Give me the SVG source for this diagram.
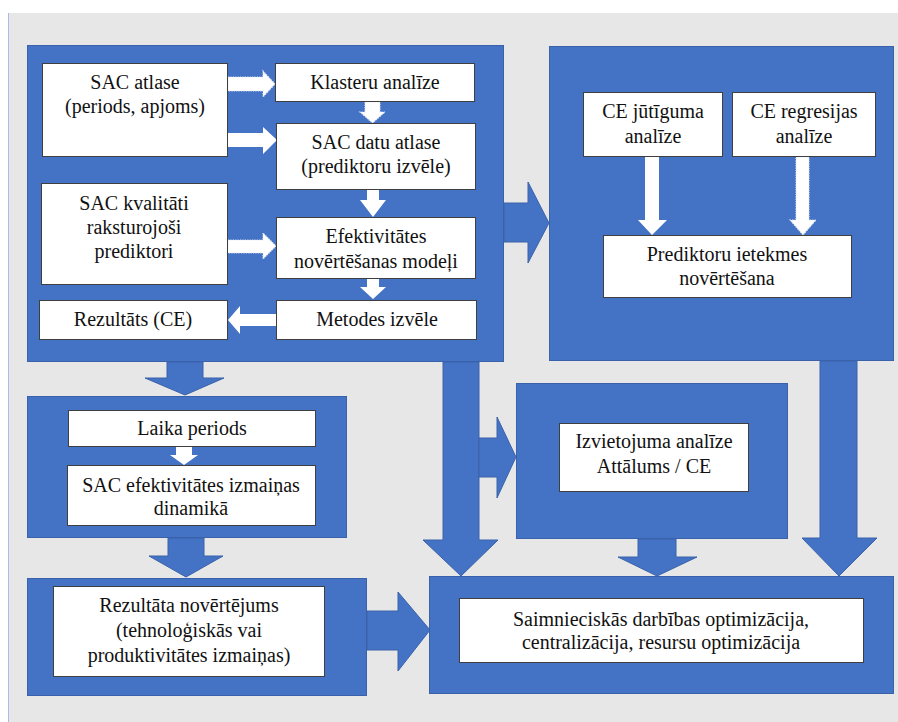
<svg xmlns="http://www.w3.org/2000/svg" width="898" height="722" viewBox="0 0 898 722">
  <style>
    .panel { fill: #4472c4; stroke: #3a62aa; stroke-width: 1; }
    .card { fill: #ffffff; stroke: #3f3f3f; stroke-width: 1; }
    .big { fill: #4472c4; stroke: #3a62aa; stroke-width: 1; }
    .solid { fill: #ffffff; stroke: none; }
    .dotted { fill: #ffffff; stroke: #dfe6f4; stroke-width: 1.2; stroke-dasharray: 1.2 1.2; }
    .lbl { font-family: 'Liberation Serif', 'Times New Roman', serif; font-size: 20px; fill: #111111; text-anchor: middle; }
  </style>

  <!-- page -->
  <rect x="0" y="0" width="898" height="722" fill="#ffffff"/>
  <rect x="8" y="13" width="890" height="709" fill="#e7e7e7"/>
  <line x1="8.5" y1="13" x2="8.5" y2="722" stroke="#a9bce6" stroke-width="1"/>

  <!-- container panels -->
  <g id="panel-selection"><rect class="panel" x="27.5" y="45.5" width="476" height="316"/></g>
  <g id="panel-impact"><rect class="panel" x="549.5" y="46.5" width="344" height="314"/></g>
  <g id="panel-dynamics"><rect class="panel" x="27.5" y="396.5" width="319" height="141"/></g>
  <g id="panel-result"><rect class="panel" x="27.5" y="578.5" width="339" height="117"/></g>
  <g id="panel-location"><rect class="panel" x="516.5" y="383.5" width="271" height="155"/></g>
  <g id="panel-optimization"><rect class="panel" x="429.5" y="576.5" width="464" height="117"/></g>

  <!-- connectors -->
  <g id="connectors">
    <!-- block arrows between panels -->
    <polygon class="big" points="504,203 528,203 528,182 549,223 528,263 528,242 504,242"/>
    <polygon class="big" points="167,362 203,362 203,378 224,378 185,395 145,378 167,378"/>
    <polygon class="big" points="443,362 479,362 479,540 498,540 461,576 423,540 443,540"/>
    <polygon class="big" points="479,438 497,438 497,417 516,457 497,498 497,477 479,477"/>
    <polygon class="big" points="820,361 857,361 857,538 877,538 839,576 802,538 820,538"/>
    <polygon class="big" points="638,539 676,539 676,557 697,557 657,576 618,557 638,557"/>
    <polygon class="big" points="168,538 204,538 204,556 223,556 186,577 149,556 168,556"/>
    <polygon class="big" points="367,611 398,611 398,592 430,630 398,671 398,650 367,650"/>

    <!-- white arrows inside panels -->
    <polygon class="dotted" points="228,77 263,77 263,71 275,84 263,97 263,91 228,91"/>
    <polygon class="solid" points="228,133 263,133 263,127 277,140 263,154 263,147 228,147"/>
    <polygon class="dotted" points="365,102 380,102 380,112 385,112 372.5,123 360,112 365,112"/>
    <polygon class="solid" points="367,190 379,190 379,200 386,200 373,217 360,200 367,200"/>
    <polygon class="dotted" points="228,240 263,240 263,233 276,246 263,259 263,253 228,253"/>
    <polygon class="solid" points="367,279 379,279 379,287 386,287 373,299 360,287 367,287"/>
    <polygon class="solid" points="276,314 240,314 240,306 228,320 240,334 240,326 276,326"/>
    <polygon class="solid" points="645,157 659,157 659,220 667,220 652,235 638,220 645,220"/>
    <polygon class="dotted" points="796,157 809,157 809,220 816,220 803,235 790,220 796,220"/>
    <polygon class="solid" points="176,447 192,447 192,455 198,455 184,465 170,455 176,455"/>
  </g>

  <!-- nodes -->
  <g id="sac-atlase">
    <rect class="card" x="42.5" y="63.5" width="185" height="93"/>
    <text class="lbl" font-family="'Liberation Serif', serif" x="135" y="89">SAC atlase</text>
    <text class="lbl" font-family="'Liberation Serif', serif" x="135" y="113">(periods, apjoms)</text>
  </g>
  <g id="klasteru-analize">
    <rect class="card" x="275.5" y="63.5" width="199" height="38"/>
    <text class="lbl" font-family="'Liberation Serif', serif" x="375" y="89">Klasteru analīze</text>
  </g>
  <g id="sac-datu-atlase">
    <rect class="card" x="276.5" y="123.5" width="199" height="66"/>
    <text class="lbl" font-family="'Liberation Serif', serif" x="376" y="149">SAC datu atlase</text>
    <text class="lbl" font-family="'Liberation Serif', serif" x="376" y="173">(prediktoru izvēle)</text>
  </g>
  <g id="sac-kvalitati">
    <rect class="card" x="41.5" y="183.5" width="186" height="101"/>
    <text class="lbl" font-family="'Liberation Serif', serif" x="134" y="210">SAC kvalitāti</text>
    <text class="lbl" font-family="'Liberation Serif', serif" x="134" y="234">raksturojoši</text>
    <text class="lbl" font-family="'Liberation Serif', serif" x="134" y="258">prediktori</text>
  </g>
  <g id="efektivitates-modeli">
    <rect class="card" x="276.5" y="217.5" width="199" height="61"/>
    <text class="lbl" font-family="'Liberation Serif', serif" x="376" y="243">Efektivitātes</text>
    <text class="lbl" font-family="'Liberation Serif', serif" x="376" y="268">novērtēšanas modeļi</text>
  </g>
  <g id="rezultats-ce">
    <rect class="card" x="39.5" y="300.5" width="188" height="39"/>
    <text class="lbl" font-family="'Liberation Serif', serif" x="133" y="326">Rezultāts (CE)</text>
  </g>
  <g id="metodes-izvele">
    <rect class="card" x="276.5" y="300.5" width="200" height="39"/>
    <text class="lbl" font-family="'Liberation Serif', serif" x="377" y="326">Metodes izvēle</text>
  </g>
  <g id="ce-jutiguma">
    <rect class="card" x="583.5" y="92.5" width="139" height="64"/>
    <text class="lbl" font-family="'Liberation Serif', serif" x="653" y="118">CE jūtīguma</text>
    <text class="lbl" font-family="'Liberation Serif', serif" x="653" y="143">analīze</text>
  </g>
  <g id="ce-regresijas">
    <rect class="card" x="732.5" y="92.5" width="143" height="64"/>
    <text class="lbl" font-family="'Liberation Serif', serif" x="804" y="118">CE regresijas</text>
    <text class="lbl" font-family="'Liberation Serif', serif" x="804" y="143">analīze</text>
  </g>
  <g id="prediktoru-ietekmes">
    <rect class="card" x="603.5" y="235.5" width="248" height="62"/>
    <text class="lbl" font-family="'Liberation Serif', serif" x="727" y="261">Prediktoru ietekmes</text>
    <text class="lbl" font-family="'Liberation Serif', serif" x="727" y="285">novērtēšana</text>
  </g>
  <g id="laika-periods">
    <rect class="card" x="68.5" y="410.5" width="247" height="36"/>
    <text class="lbl" font-family="'Liberation Serif', serif" x="192" y="435">Laika periods</text>
  </g>
  <g id="efektivitates-izmainas">
    <rect class="card" x="67.5" y="465.5" width="248" height="60"/>
    <text class="lbl" font-family="'Liberation Serif', serif" x="191" y="492">SAC efektivitātes izmaiņas</text>
    <text class="lbl" font-family="'Liberation Serif', serif" x="191" y="515">dinamikā</text>
  </g>
  <g id="rezultata-novertejums">
    <rect class="card" x="53.5" y="586.5" width="271" height="90"/>
    <text class="lbl" font-family="'Liberation Serif', serif" x="189" y="612">Rezultāta novērtējums</text>
    <text class="lbl" font-family="'Liberation Serif', serif" x="189" y="637">(tehnoloģiskās vai</text>
    <text class="lbl" font-family="'Liberation Serif', serif" x="189" y="662">produktivitātes izmaiņas)</text>
  </g>
  <g id="izvietojuma-analize">
    <rect class="card" x="559.5" y="423.5" width="189" height="68"/>
    <text class="lbl" font-family="'Liberation Serif', serif" x="654" y="448">Izvietojuma analīze</text>
    <text class="lbl" font-family="'Liberation Serif', serif" x="654" y="473">Attālums / CE</text>
  </g>
  <g id="saimnieciskas-optimizacija">
    <rect class="card" x="459.5" y="598.5" width="404" height="64"/>
    <text class="lbl" font-family="'Liberation Serif', serif" x="661" y="626">Saimnieciskās darbības optimizācija,</text>
    <text class="lbl" font-family="'Liberation Serif', serif" x="661" y="649">centralizācija, resursu optimizācija</text>
  </g>
</svg>
